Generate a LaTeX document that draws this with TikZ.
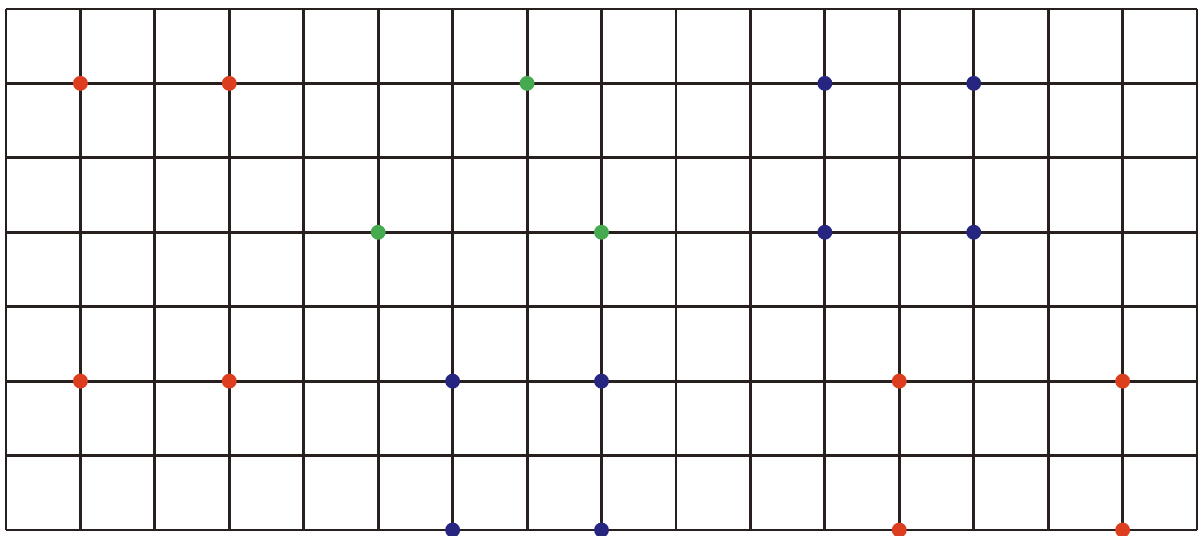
\documentclass[tikz,border=0pt]{standalone}
\usepackage{xcolor}
\usepackage{tikz}
\definecolor{dotred}{RGB}{222,62,32}
\definecolor{dotgreen}{RGB}{70,170,80}
\definecolor{dotblue}{RGB}{38,38,128}
\definecolor{gridline}{RGB}{40,32,30}

\begin{document}
\begin{tikzpicture}[
    gridlines/.style={draw=gridline,line width=1.1pt},
    pt/.style={circle,inner sep=0pt,minimum size=2mm},
    redpt/.style={pt,fill=dotred},
    greenpt/.style={pt,fill=dotgreen},
    bluept/.style={pt,fill=dotblue}
  ]
    \useasboundingbox (-0.08,-0.08) rectangle (16.08,7.12);
    \draw[gridlines] (0,0) grid (16,7);

    \foreach \x/\y [count=\i] in {1/6,3/6,1/2,3/2,12/2,15/2,12/0,15/0}
      \node[redpt] (r\i) at (\x,\y) {};
    \foreach \x/\y [count=\i] in {7/6,5/4,8/4}
      \node[greenpt] (g\i) at (\x,\y) {};
    \foreach \x/\y [count=\i] in {11/6,13/6,11/4,13/4,6/2,8/2,6/0,8/0}
      \node[bluept] (b\i) at (\x,\y) {};
  \end{tikzpicture}
\end{document}
